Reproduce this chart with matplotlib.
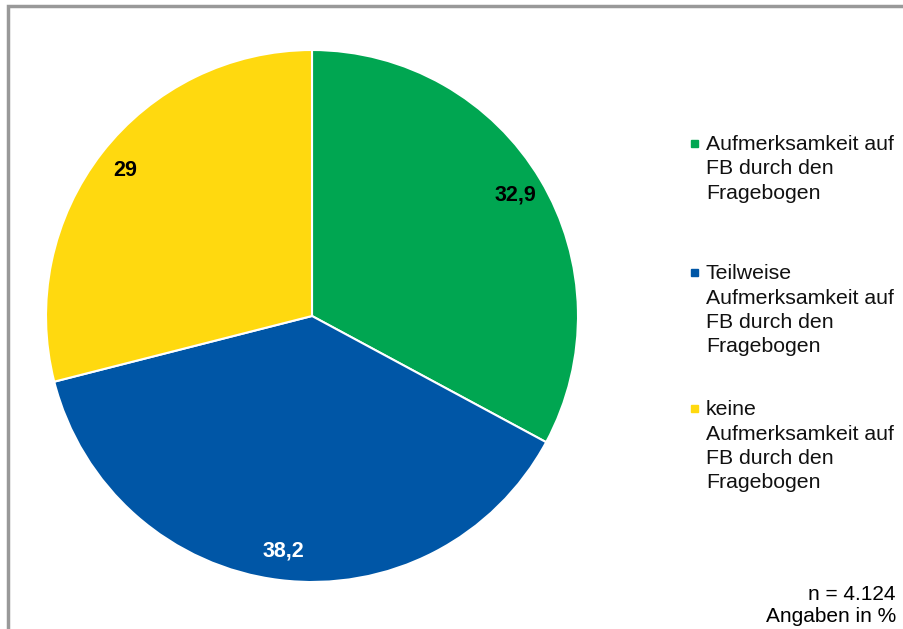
import matplotlib.pyplot as plt
import numpy as np
from matplotlib.patches import Rectangle

plt.rcParams['font.family'] = ['Liberation Sans', 'DejaVu Sans']

labels = ["Aufmerksamkeit auf\nFB durch den\nFragebogen",
          "Teilweise\nAufmerksamkeit auf\nFB durch den\nFragebogen",
          "keine\nAufmerksamkeit auf\nFB durch den\nFragebogen"]
values = [32.9, 38.2, 29]
value_text = ["32,9", "38,2", "29"]
colors = ["#00A651", "#0056A6", "#FFD90F"]
text_colors = ["black", "white", "black"]

fig = plt.figure(figsize=(9.04, 6.29), dpi=100)
ax = fig.add_axes([46/904, 47/629, 532/904, 532/629])

wedges, _ = ax.pie(values, colors=colors, startangle=90, counterclock=False,
                   wedgeprops={'edgecolor': 'white', 'linewidth': 1.5})
ax.set_xlim(-1, 1)
ax.set_ylim(-1, 1)
ax.set_aspect('equal')

# value labels
cum = 0
for v, t, c in zip(values, value_text, text_colors):
    mid = 90 - (cum + v / 2) / sum(values) * 360
    r = 0.89
    ax.text(r * np.cos(np.radians(mid)), r * np.sin(np.radians(mid)), t,
            ha='center', va='center', fontsize=15.5, fontweight='bold', color=c)
    cum += v

# legend by hand
starts = [143, 272, 408]
for lab, col, y in zip(labels, colors, starts):
    for i, line in enumerate(lab.split("\n")):
        fig.text(706/904, 1 - (y + 7 + i * 24.5)/629, line, fontsize=15.3,
                 va='baseline', ha='left', color='#111111')
    fig.patches.append(Rectangle((691/904, 1 - (y + 4)/629), 7/904, 7/629,
                                 transform=fig.transFigure, color=col,
                                 figure=fig))

fig.text(896/904, 1 - 594/629, "n = 4.124", fontsize=15, ha='right', va='center')
fig.text(896/904, 1 - 617/629, "Angaben in %", fontsize=15, ha='right', va='center')

# frame
fig.patches.append(Rectangle((8/904, -0.05), 1.0, 1 - 6/629 + 0.05,
                             transform=fig.transFigure, fill=False,
                             edgecolor='#999999', linewidth=2.5, figure=fig))

fig.savefig("out.png", dpi=100)
